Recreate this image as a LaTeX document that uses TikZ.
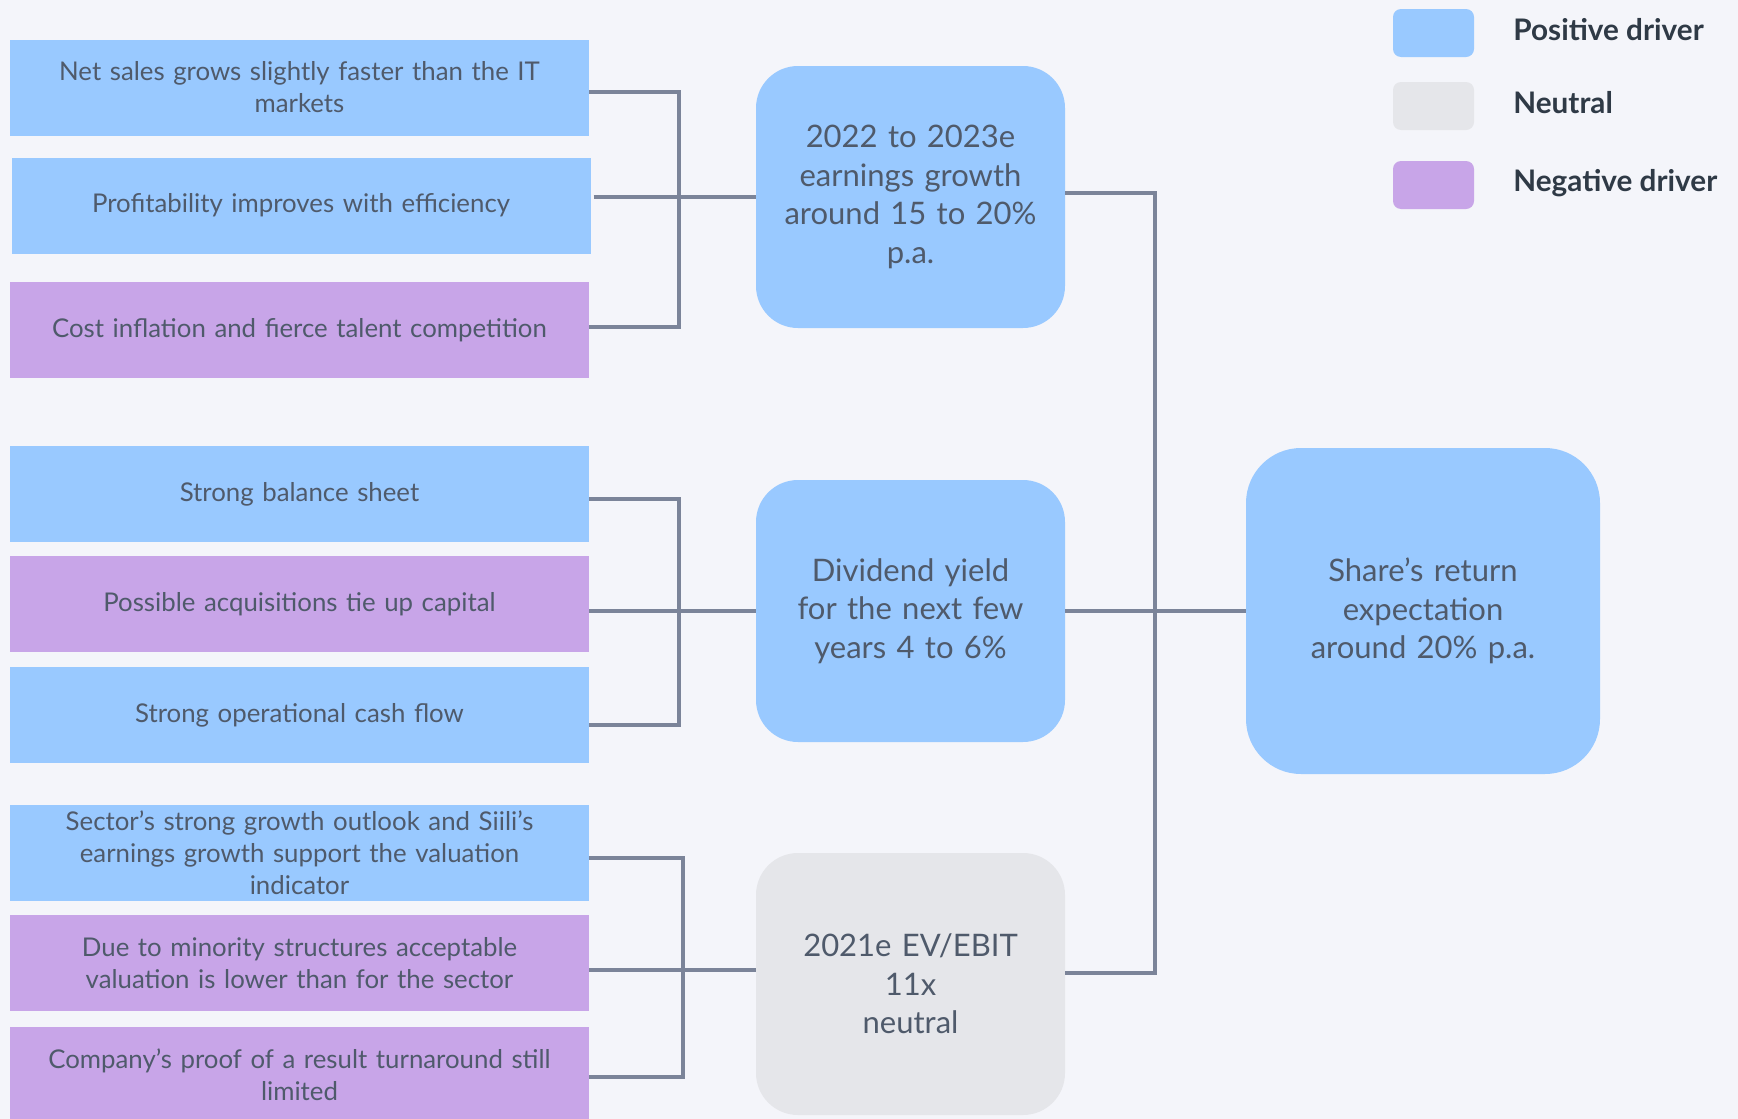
\documentclass[tikz,border=0pt]{standalone}
\usepackage{fontspec}
\setmainfont{Lato}
\definecolor{bg}{HTML}{F4F5FA}
\definecolor{posblue}{HTML}{99C9FF}
\definecolor{negpurple}{HTML}{C8A5E8}
\definecolor{neutgray}{HTML}{E5E6EA}
\definecolor{linkgray}{HTML}{7B8499}
\definecolor{txtgray}{HTML}{4F5A6B}
\definecolor{legtxt}{HTML}{2F3A46}
\tikzset{
  driver/.style={minimum width=579pt, minimum height=96pt, inner sep=0pt, text width=570pt, align=center, text=txtgray, font=\fontsize{25.8}{32}\selectfont},
  posbox/.style={fill=posblue},
  negbox/.style={fill=negpurple},
  outcome/.style={rounded corners=42pt, minimum width=309pt, minimum height=262pt, inner sep=0pt, text width=300pt, align=center, text=txtgray, font=\fontsize{31}{38.5}\selectfont},
  link/.style={draw=linkgray, line width=4.8pt},
  swatch/.style={rounded corners=8pt, minimum width=81pt, minimum height=48pt, inner sep=0pt},
  legtext/.style={anchor=base west, inner sep=0pt, text=legtxt, font=\bfseries\fontsize{29.7}{32}\selectfont}
}
\begin{document}
\begin{tikzpicture}[x=1pt, y=-1pt]
    \fill[bg] (0,0) rectangle (1738,1119);
    \useasboundingbox (0,0) rectangle (1738,1119);

    \node[driver, posbox] (b1) at (299.5,87.5) {Net sales grows slightly faster than the IT\\markets};
    \node[driver, posbox] (b2) at (301,205.5) {Profitability improves with efficiency};
    \node[driver, negbox] (b3) at (299.5,330) {Cost inflation and fierce talent competition};
    \node[driver, posbox] (b4) at (299.5,494) {Strong balance sheet};
    \node[driver, negbox] (b5) at (299.5,604) {Possible acquisitions tie up capital};
    \node[driver, posbox] (b6) at (299.5,715) {Strong operational cash flow};
    \node[driver, posbox] (b7) at (299.5,852.5) {Sector’s strong growth outlook and Siili's\\earnings growth support the valuation\\indicator};
    \node[driver, negbox] (b8) at (299.5,963) {Due to minority structures acceptable\\valuation is lower than for the sector};
    \node[driver, negbox] (b9) at (299.5,1075) {Company’s proof of a result turnaround still\\limited};

    \node[outcome, fill=posblue] (m1) at (910.5,197) {2022 to 2023e\\earnings growth\\around 15 to 20\%\\p.a.};
    \node[outcome, fill=posblue] (m2) at (910.5,611) {Dividend yield\\for the next few\\years 4 to 6\%};
    \node[outcome, fill=neutgray] (m3) at (910.5,984) {2021e EV/EBIT\\11x\\neutral};
    \node[outcome, fill=posblue, minimum width=354pt, minimum height=326pt, rounded corners=55pt] (res) at (1423,611) {Share’s return\\expectation\\around 20\% p.a.};

    \node[swatch, fill=posblue] (lg1) at (1433.5,33) {};
    \node[swatch, fill=neutgray] (lg2) at (1433.5,106) {};
    \node[swatch, fill=negpurple] (lg3) at (1433.5,185) {};
    \node[legtext] (lt1) at ([xshift=39pt, yshift=-7.5pt]lg1.east) {Positive driver};
    \node[legtext] (lt2) at ([xshift=39pt, yshift=-7pt]lg2.east) {Neutral};
    \node[legtext] (lt3) at ([xshift=39pt, yshift=-6pt]lg3.east) {Negative driver};

    \coordinate (j1t) at (679,92);
    \coordinate (j1b) at (679,327);
    \draw[link] (b1.east |- j1t) -- (j1t) -- (j1b) -- (b3.east |- j1b);
    \draw[link] ([xshift=3pt]b2.east |- m1.west) -- (m1.west);

    \coordinate (j2t) at (679,499);
    \coordinate (j2b) at (679,725);
    \draw[link] (b4.east |- j2t) -- (j2t) -- (j2b) -- (b6.east |- j2b);
    \draw[link] (b5.east |- m2.west) -- (m2.west);

    \coordinate (j3t) at (683,858);
    \coordinate (j3m) at (683,970);
    \coordinate (j3b) at (683,1077);
    \draw[link] (b7.east |- j3t) -- (j3t) -- (j3b) -- (b9.east |- j3b);
    \draw[link] (b8.east |- j3m) -- (j3m -| m3.west);

    \coordinate (rt) at (1155,193);
    \coordinate (rb) at (1155,973);
    \draw[link] (m1.east |- rt) -- (rt) -- (rb) -- (m3.east |- rb);
    \draw[link] (m2.east) -- (res.west);
\end{tikzpicture}
\end{document}
